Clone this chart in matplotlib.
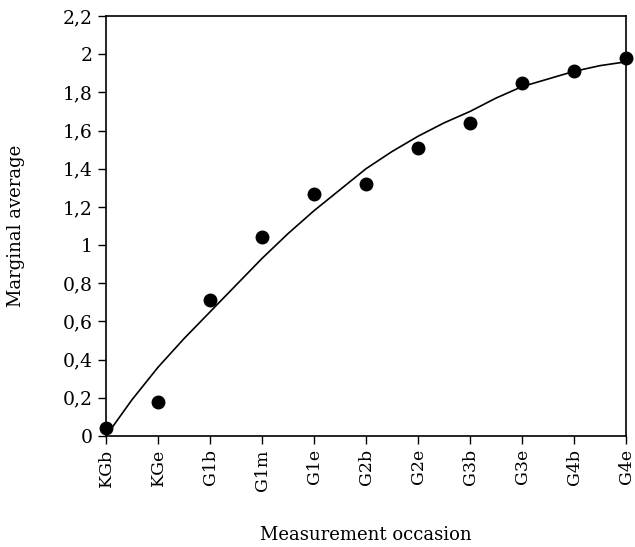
import numpy as np
import matplotlib.pyplot as plt

# measurement occasions and observed marginal averages
occasions = ["KGb", "KGe", "G1b", "G1m", "G1e", "G2b", "G2e", "G3b", "G3e", "G4b", "G4e"]
observed = [0.04, 0.18, 0.71, 1.04, 1.27, 1.32, 1.51, 1.64, 1.85, 1.91, 1.98]

curve_pos = [0, 0.5, 1, 1.5, 2, 2.5, 3, 3.5, 4, 4.5, 5, 5.5, 6, 6.5, 7, 7.5, 8, 8.5, 9, 9.5, 10]
curve_val = [0.0, 0.19, 0.36, 0.51, 0.65, 0.79, 0.93, 1.06, 1.18, 1.29, 1.40, 1.49,
             1.57, 1.64, 1.70, 1.77, 1.83, 1.87, 1.91, 1.94, 1.96]

y_ticks = [0, 0.2, 0.4, 0.6, 0.8, 1, 1.2, 1.4, 1.6, 1.8, 2, 2.2]

plt.rcParams['font.family'] = ['DejaVu Serif']

fig = plt.figure(figsize=(6.35, 5.47), dpi=100)
ax = fig.add_axes([106 / 635, 111 / 547, 520 / 635, 420 / 547])

x = np.arange(len(occasions))
ax.plot(curve_pos, curve_val, color='black', linewidth=1.2, clip_on=False)
ax.plot(x, observed, 'o', color='black', markersize=9, clip_on=False)

ax.set_xlim(0, len(occasions) - 1)
ax.set_ylim(0, 2.2)
ax.set_xticks(x)
ax.set_xticklabels(occasions, rotation=90, fontsize=12.5)
ax.set_yticks(y_ticks)
ax.set_yticklabels([("%g" % v).replace(".", ",") for v in y_ticks], fontsize=13.5)
ax.tick_params(direction='out', length=6, width=1, colors='black')

for spine in ax.spines.values():
    spine.set_linewidth(1.2)

ax.set_xlabel("Measurement occasion", fontsize=13)
ax.set_ylabel("Marginal average", fontsize=13)
ax.xaxis.set_label_coords(0.5, -0.215)
ax.yaxis.set_label_coords(-0.155, 0.5)

fig.savefig("out.png", dpi=100)
